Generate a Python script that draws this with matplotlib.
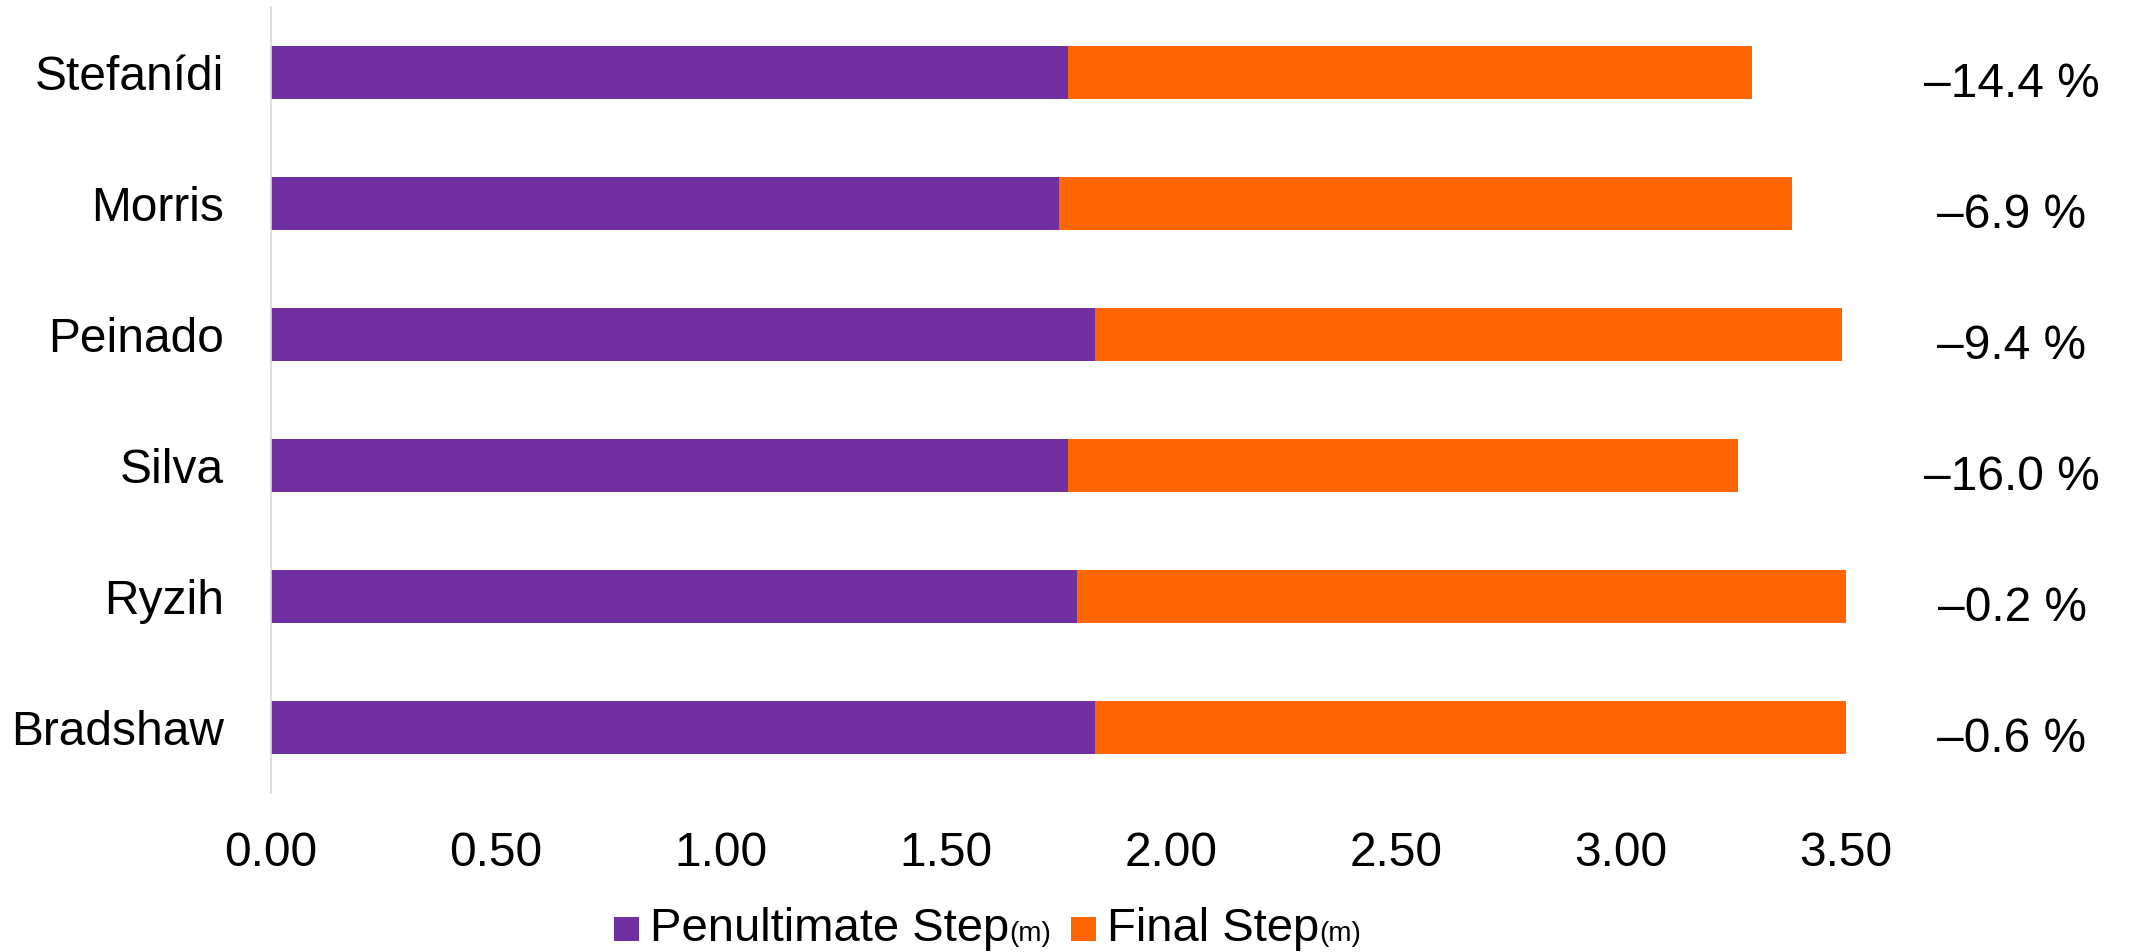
import matplotlib
matplotlib.use("Agg")
import matplotlib.pyplot as plt
from matplotlib.offsetbox import AnchoredOffsetbox, DrawingArea, HPacker, TextArea
from matplotlib.patches import Rectangle
import numpy as np

plt.rcParams['font.family'] = ['Liberation Sans', 'DejaVu Sans']

athletes = ['Stefanídi', 'Morris', 'Peinado', 'Silva', 'Ryzih', 'Bradshaw']
penultimate = [1.77, 1.75, 1.83, 1.77, 1.79, 1.83]
final = [1.52, 1.63, 1.66, 1.49, 1.71, 1.67]
change = ['–14.4 %', '–6.9 %', '–9.4 %', '–16.0 %', '–0.2 %', '–0.6 %']
xticks = [0.0, 0.5, 1.0, 1.5, 2.0, 2.5, 3.0, 3.5]

purple = '#7030A0'
orange = '#FF6600'

fig = plt.figure(figsize=(21.38, 9.52), dpi=100)
ax = fig.add_axes([271 / 2138, 159 / 952, 1575 / 2138, 786 / 952])

y = np.arange(len(athletes))
ax.barh(y, penultimate, height=0.4, color=purple, edgecolor='none')
ax.barh(y, final, left=penultimate, height=0.4, color=orange, edgecolor='none')

ax.set_ylim(len(athletes) - 0.5, -0.5)
ax.set_xlim(0, 3.5)
ax.set_yticks(y)
ax.set_yticklabels(athletes, fontsize=34.5)
ax.set_xticks(xticks)
ax.set_xticklabels(['%.2f' % v for v in xticks], fontsize=34.5)
ax.tick_params(axis='y', length=0, pad=34)
ax.tick_params(axis='x', length=0, pad=27)

for s in ['top', 'right', 'bottom']:
    ax.spines[s].set_visible(False)
ax.spines['left'].set_color('#D9D9D9')
ax.spines['left'].set_linewidth(1.2)

# percentage change next to each bar
for i, txt in enumerate(change):
    ax.text(1.1054, i + 0.19, txt, transform=ax.get_yaxis_transform(),
            ha='center', va='baseline', fontsize=34.5, clip_on=False)


# legend with small "(m)" units
def entry(color, label):
    da = DrawingArea(18, 17.5, 0, 0)
    da.add_artist(Rectangle((0, 0), 18, 17.5, facecolor=color, edgecolor='none'))
    main = TextArea(label, textprops=dict(fontsize=34))
    unit = TextArea('(m)', textprops=dict(fontsize=20))
    words = HPacker(children=[main, unit], sep=0, align='baseline', pad=0)
    return HPacker(children=[da, words], sep=8, align='baseline', pad=0)


leg = HPacker(children=[entry(purple, 'Penultimate Step'), entry(orange, 'Final Step')],
              sep=14, align='baseline', pad=0)
anchored = AnchoredOffsetbox(loc='center', child=leg, pad=0, borderpad=0, frameon=False,
                             bbox_to_anchor=(987.5 / 2138, 1 - 929 / 952),
                             bbox_transform=fig.transFigure)
fig.add_artist(anchored)

fig.savefig('out.png', dpi=100, facecolor='white')
